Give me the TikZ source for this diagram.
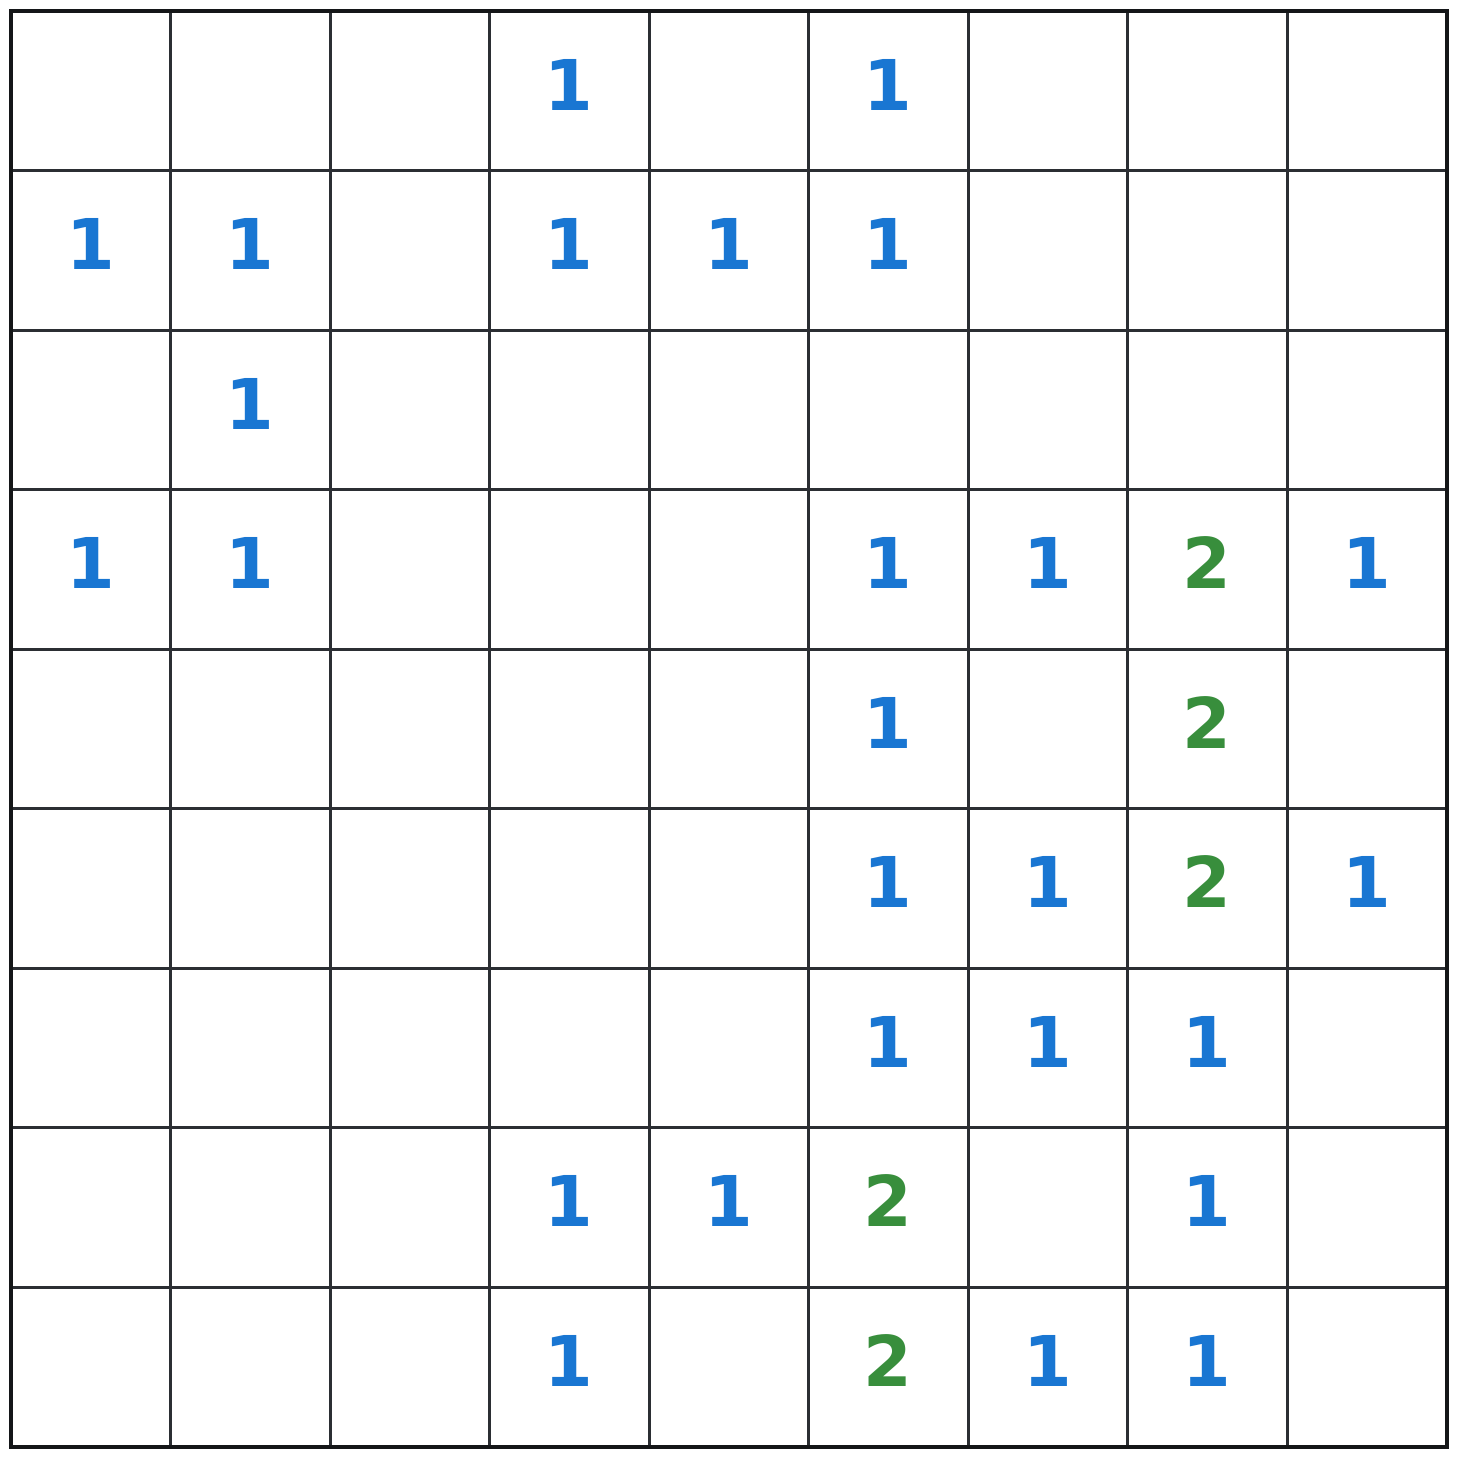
\documentclass[tikz,border=0pt]{standalone}
\usepackage{fontspec}
\setmainfont{DejaVu Sans}
\definecolor{bluenum}{HTML}{1976D2}
\definecolor{greennum}{HTML}{388E3C}
\definecolor{gridline}{HTML}{2B2E33}
\definecolor{gridborder}{HTML}{141618}
\tikzset{
  inner/.style={draw=gridline,line width=3pt},
  border/.style={draw=gridborder,line width=4pt},
  digit/.style={anchor=base,inner sep=0pt,font=\fontsize{70}{84}\selectfont\bfseries},
  one/.style={digit,text=bluenum},
  two/.style={digit,text=greennum}
}
\newcommand{\cellsz}{159.5}
\newcommand{\gorg}{11}
\begin{document}
\begin{tikzpicture}[x=1pt,y=-1pt]
\useasboundingbox[fill=white] (0,0) rectangle (1458,1458);
\foreach \k in {1,...,8}{
  \draw[inner] ({\gorg+\k*\cellsz},\gorg) -- ({\gorg+\k*\cellsz},{\gorg+9*\cellsz});
  \draw[inner] (\gorg,{\gorg+\k*\cellsz}) -- ({\gorg+9*\cellsz},{\gorg+\k*\cellsz});
}
\draw[border] (\gorg,\gorg) rectangle ({\gorg+9*\cellsz},{\gorg+9*\cellsz});
\foreach \r/\c/\v in {
  0/3/1,0/5/1,
  1/0/1,1/1/1,1/3/1,1/4/1,1/5/1,
  2/1/1,
  3/0/1,3/1/1,3/5/1,3/6/1,3/7/2,3/8/1,
  4/5/1,4/7/2,
  5/5/1,5/6/1,5/7/2,5/8/1,
  6/5/1,6/6/1,6/7/1,
  7/3/1,7/4/1,7/5/2,7/7/1,
  8/3/1,8/5/2,8/6/1,8/7/1}{
  \ifnum\v=1
    \node[one] (n-\r-\c) at ({\gorg+(\c+0.5)*\cellsz},{\gorg+(\r+0.5)*\cellsz+19.5}) {\v};
  \else
    \node[two] (n-\r-\c) at ({\gorg+(\c+0.5)*\cellsz},{\gorg+(\r+0.5)*\cellsz+19.5}) {\v};
  \fi
}
\end{tikzpicture}
\end{document}
